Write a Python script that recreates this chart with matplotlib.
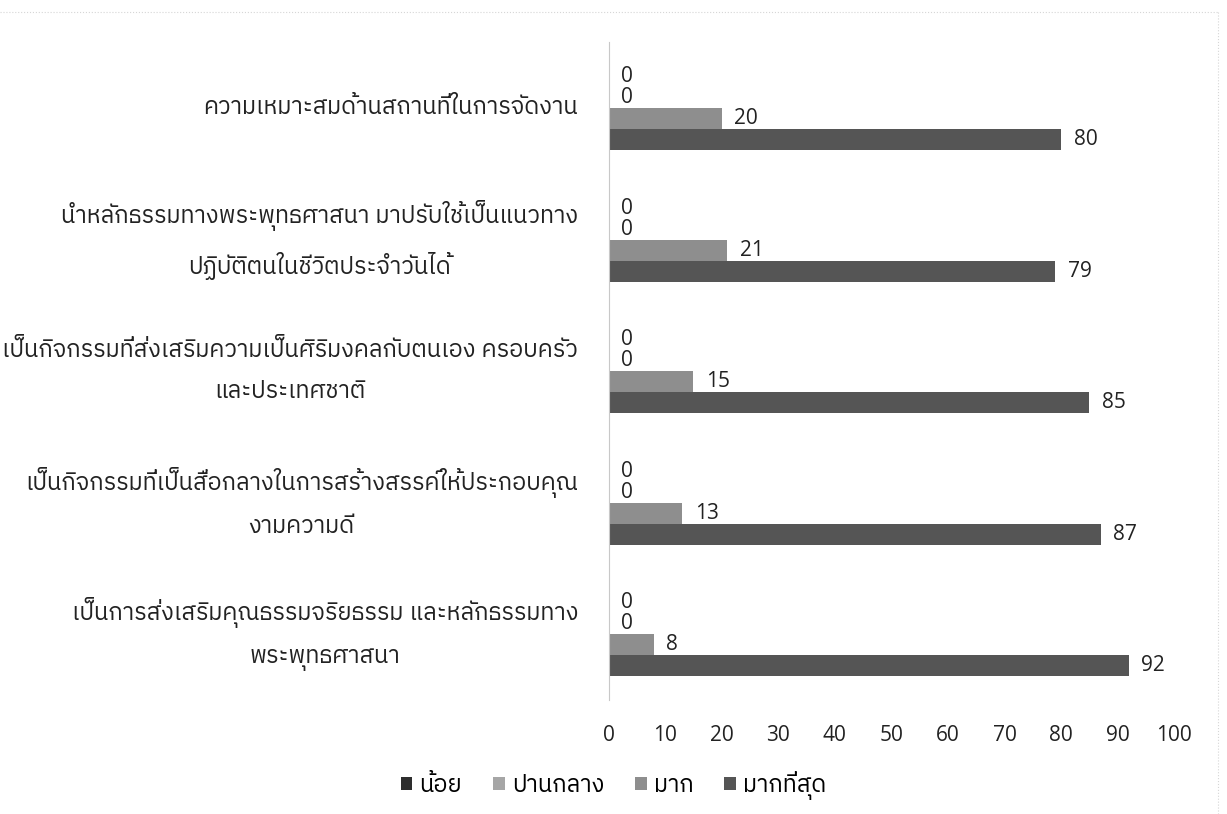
import matplotlib
matplotlib.use("Agg")
import matplotlib.pyplot as plt
from matplotlib import font_manager
from matplotlib.ft2font import FT2Font
from matplotlib.lines import Line2D
import numpy as np

categories = [
    "ความเหมาะสมด้านสถานที่ในการจัดงาน",
    "นำหลักธรรมทางพระพุทธศาสนา มาปรับใช้เป็นแนวทาง\nปฏิบัติตนในชีวิตประจำวันได้",
    "เป็นกิจกรรมที่ส่งเสริมความเป็นศิริมงคลกับตนเอง ครอบครัว\nและประเทศชาติ",
    "เป็นกิจกรรมที่เป็นสื่อกลางในการสร้างสรรค์ให้ประกอบคุณ\nงามความดี",
    "เป็นการส่งเสริมคุณธรรมจริยธรรม และหลักธรรมทาง\nพระพุทธศาสนา",
]
series_names = ["น้อย", "ปานกลาง", "มาก", "มากที่สุด"]
noi = [0, 0, 0, 0, 0]
panklang = [0, 0, 0, 0, 0]
mak = [20, 21, 15, 13, 8]
mak_thisut = [80, 79, 85, 87, 92]
colors = ["#2e2e2e", "#a6a6a6", "#8e8e8e", "#555555"]


# look for any installed font that has Thai glyphs
def find_thai_font():
    paths = font_manager.findSystemFonts()
    paths.sort(key=lambda p: (0 if "thai" in p.lower() else 1, p))
    for p in paths:
        try:
            if 0x0E01 in FT2Font(p).get_charmap():
                return p
        except Exception:
            continue
    return None


thai_path = find_thai_font()
families = ["Open Sans"]
if thai_path:
    font_manager.fontManager.addfont(thai_path)
    families.append(font_manager.FontProperties(fname=thai_path).get_name())
families.append("DejaVu Sans")
plt.rcParams["font.family"] = families

fig = plt.figure(figsize=(12.27, 8.14), dpi=100)
ax = fig.add_axes([0.496, 0.14, 0.461, 0.808])

values = [noi, panklang, mak, mak_thisut]
y = np.arange(len(categories))
h = 0.16
for j, (name, vals) in enumerate(zip(series_names, values)):
    bars = ax.barh(y + (j - 1.5) * h, vals, height=h, color=colors[j], label=name)
    ax.bar_label(bars, padding=9, fontsize=15, color="#222222")

ax.set_xlim(0, 100)
ax.set_xticks(range(0, 101, 10))
ax.set_ylim(len(categories) - 0.5, -0.5)
ax.set_yticks(y)
ax.set_yticklabels(categories, fontsize=17, multialignment="center",
                   linespacing=1.95, va="center")
ax.tick_params(axis="both", length=0, colors="#222222")
ax.tick_params(axis="x", pad=18, labelsize=15)
ax.tick_params(axis="y", pad=22)
for s in ["top", "right", "bottom"]:
    ax.spines[s].set_visible(False)
ax.spines["left"].set_color("#c8c8c8")
ax.spines["left"].set_linewidth(0.8)

fig.legend(loc="center", bbox_to_anchor=(0.5, 0.035), ncol=4, frameon=False,
           fontsize=17, handlelength=0.5, handleheight=0.5, handletextpad=0.3,
           columnspacing=1.3)

# faint frame of the scanned chart area
fig.add_artist(Line2D([0.0, 0.993], [0.985, 0.985], color="#d6d6d6", lw=0.8, ls=":"))
fig.add_artist(Line2D([0.993, 0.993], [0.0, 0.985], color="#d6d6d6", lw=0.8, ls=":"))

fig.savefig("out.png", dpi=100)
